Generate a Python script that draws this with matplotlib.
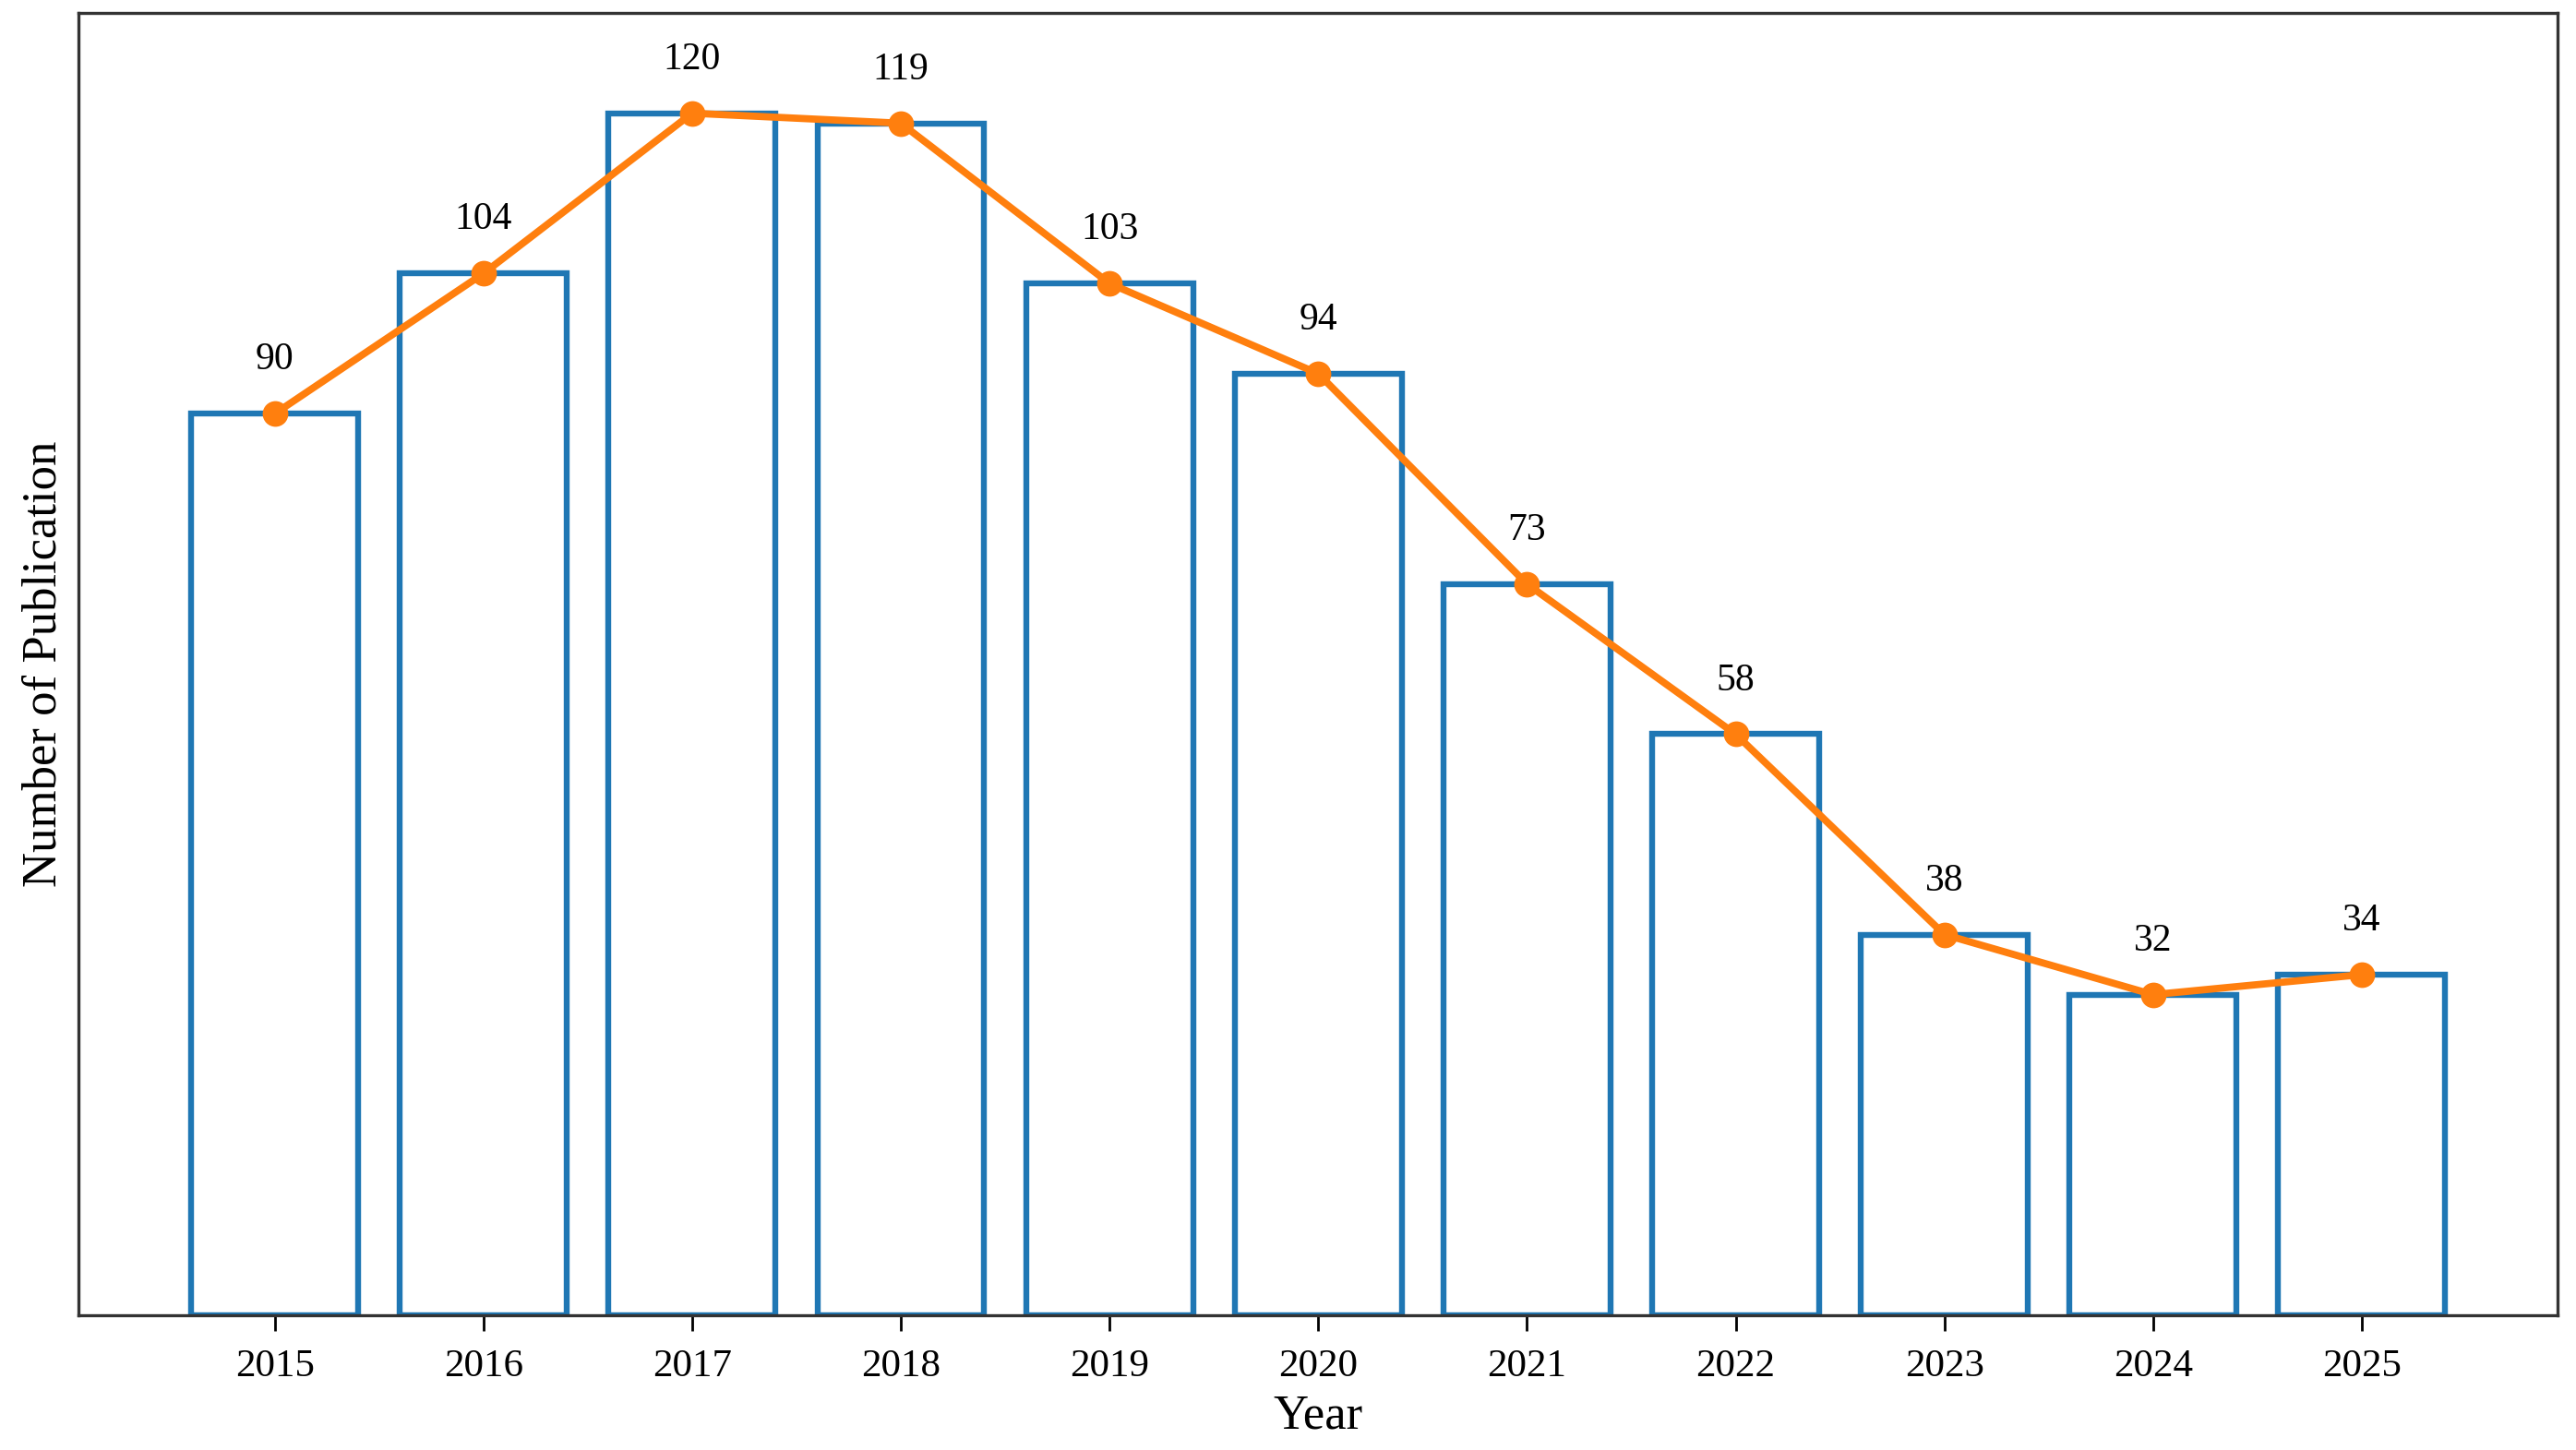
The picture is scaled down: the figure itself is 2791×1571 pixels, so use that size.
import numpy as np
import matplotlib
matplotlib.use("Agg")
import matplotlib.pyplot as plt

plt.rcParams['font.family'] = ['Liberation Serif', 'DejaVu Serif']

years = ['2015', '2016', '2017', '2018', '2019', '2020', '2021', '2022', '2023', '2024', '2025']
counts = [90, 104, 120, 119, 103, 94, 73, 58, 38, 32, 34]

x = np.arange(len(years))

fig, ax = plt.subplots(figsize=(13.955, 7.855), dpi=200)
fig.subplots_adjust(left=0.0305, right=0.993, top=0.991, bottom=0.093)

ax.bar(x, counts, width=0.8, facecolor='none', edgecolor='#1f77b4', linewidth=2.3)
ax.plot(x, counts, color='#ff7f0e', linewidth=2.8, marker='o', markersize=9)

for xi, c in zip(x, counts):
    ax.annotate(str(c), (xi, c), xytext=(0, 14), textcoords='offset points',
                ha='center', va='bottom', fontsize=15)

ax.set_xticks(x)
ax.set_xticklabels(years, fontsize=15.5)
ax.set_yticks([])
ax.set_ylim(0, 130)
ax.set_xlabel('Year', fontsize=19, labelpad=4)
ax.set_ylabel('Number of Publication', fontsize=19, labelpad=5)
ax.tick_params(axis='x', length=6, width=1, pad=7)
for s in ax.spines.values():
    s.set_linewidth(1.2)
    s.set_color('#333333')

fig.savefig('out.png', dpi=200)
